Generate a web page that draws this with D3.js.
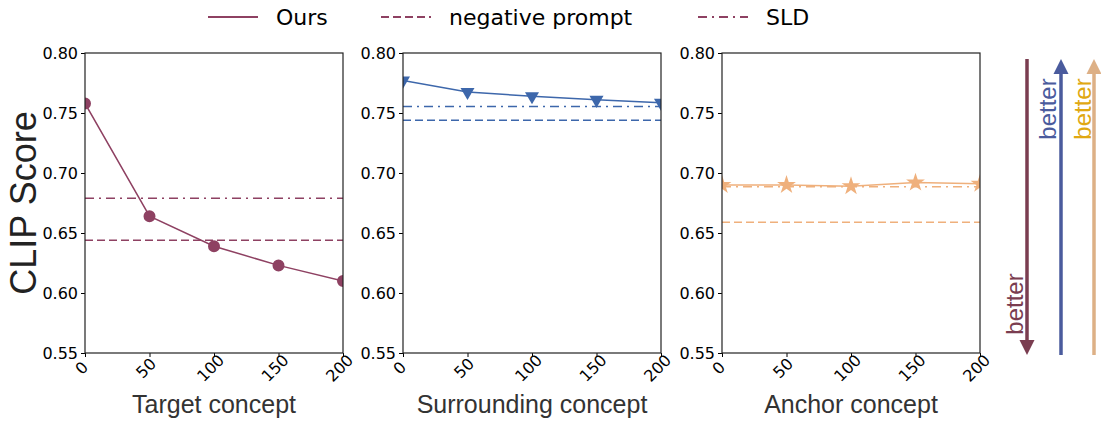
<!DOCTYPE html>
<html>
<head>
<meta charset="utf-8">
<script src="https://cdn.jsdelivr.net/npm/d3@7"></script>
<style>
  body { margin: 0; background: #fff; }
  svg { display: block; }
</style>
</head>
<body>
<script>
// data
var steps = [0, 50, 100, 150, 200];
var panels = ["Target concept", "Surrounding concept", "Anchor concept"];
var ours = [
  [0.758, 0.664, 0.639, 0.623, 0.610],
  [0.777, 0.7675, 0.764, 0.761, 0.7585],
  [0.690, 0.690, 0.689, 0.692, 0.691]
];
var negativePrompt = [0.644, 0.744, 0.659];
var sld = [0.679, 0.7555, 0.6885];
var yTicks = [0.55, 0.60, 0.65, 0.70, 0.75, 0.80];
var legendLabels = ["Ours", "negative prompt", "SLD"];

var colors = ["#8e4162", "#3d67ab", "#efb07c"];
var arrowColors = ["#7a3d50", "#4a5b9d", "#ddb086"];
var betterColors = ["#7a3d50", "#4a5b9d", "#e0a812"];
var symbols = [d3.symbolCircle, d3.symbolTriangle, d3.symbolStar];
var dashNeg = "8,4";
var dashSld = "9,5,2,5";

var width = 1101, height = 421;
var svg = d3.select("body").append("svg")
  .attr("width", width)
  .attr("height", height);

var plotTop = 53, plotBottom = 353;
var lefts = [85, 403, 722];
var pw = 258;

var y = d3.scaleLinear().domain([0.55, 0.80]).range([plotBottom, plotTop]);

panels.forEach(function(name, i) {
  var x = d3.scaleLinear().domain([0, 200]).range([lefts[i], lefts[i] + pw]);
  var g = svg.append("g");

  svg.append("clipPath").attr("id", "clip" + i)
    .append("rect")
    .attr("x", lefts[i]).attr("y", plotTop)
    .attr("width", pw).attr("height", plotBottom - plotTop);

  var plot = g.append("g").attr("clip-path", "url(#clip" + i + ")");

  // baselines
  plot.append("line")
    .attr("x1", x(0)).attr("x2", x(200))
    .attr("y1", y(negativePrompt[i])).attr("y2", y(negativePrompt[i]))
    .attr("stroke", colors[i]).attr("stroke-width", 1.5)
    .attr("stroke-dasharray", dashNeg);
  plot.append("line")
    .attr("x1", x(0)).attr("x2", x(200))
    .attr("y1", y(sld[i])).attr("y2", y(sld[i]))
    .attr("stroke", colors[i]).attr("stroke-width", 1.5)
    .attr("stroke-dasharray", dashSld);

  var line = d3.line()
    .x(function(d, j) { return x(steps[j]); })
    .y(function(d) { return y(d); });
  plot.append("path")
    .datum(ours[i])
    .attr("d", line)
    .attr("fill", "none")
    .attr("stroke", colors[i])
    .attr("stroke-width", 1.5);

  var sym = d3.symbol().type(symbols[i]).size([113, 85, 110][i]);
  plot.selectAll(".mk")
    .data(ours[i])
    .enter().append("path")
    .attr("d", sym)
    .attr("transform", function(d, j) {
      var t = "translate(" + x(steps[j]) + "," + y(d) + ")";
      if (i == 1) t += " rotate(180)";
      return t;
    })
    .attr("fill", colors[i]);

  // axes
  var yAxis = g.append("g")
    .attr("transform", "translate(" + lefts[i] + ",0)")
    .call(d3.axisLeft(y).tickValues(yTicks).tickFormat(d3.format(".2f")).tickSize(4).tickSizeOuter(0));
  yAxis.selectAll("text")
    .attr("font-family", "DejaVu Sans").attr("font-size", 16).attr("fill", "#000");

  var xAxis = g.append("g")
    .attr("transform", "translate(0," + plotBottom + ")")
    .call(d3.axisBottom(x).tickValues(steps).tickSize(4).tickSizeOuter(0));
  xAxis.selectAll("text")
    .attr("font-family", "DejaVu Sans").attr("font-size", 16).attr("fill", "#000")
    .attr("text-anchor", "middle")
    .attr("y", 0).attr("dy", 0)
    .attr("transform", "translate(0,19) rotate(-45)");

  g.selectAll(".domain").remove();
  g.append("rect")
    .attr("x", lefts[i]).attr("y", plotTop)
    .attr("width", pw).attr("height", plotBottom - plotTop)
    .attr("fill", "none").attr("stroke", "#222").attr("stroke-width", 1.2);

  g.append("text")
    .attr("x", lefts[i] + pw / 2).attr("y", 413)
    .attr("text-anchor", "middle")
    .attr("font-family", "Liberation Sans").attr("font-size", 25)
    .attr("fill", "#333")
    .text(name);
});

svg.append("text")
  .attr("transform", "translate(36," + ((plotTop + plotBottom) / 2) + ") rotate(-90)")
  .attr("text-anchor", "middle")
  .attr("font-family", "Liberation Sans").attr("font-size", 36)
  .attr("fill", "#222")
  .text("CLIP Score");

// legend
var legendX = [208, 381, 698];
var dashes = [null, dashNeg, dashSld];
legendLabels.forEach(function(l, k) {
  svg.append("line")
    .attr("x1", legendX[k]).attr("x2", legendX[k] + 50)
    .attr("y1", 17).attr("y2", 17)
    .attr("stroke", colors[0]).attr("stroke-width", 2)
    .attr("stroke-dasharray", dashes[k]);
  svg.append("text")
    .attr("x", legendX[k] + 68).attr("y", 25)
    .attr("font-family", "DejaVu Sans").attr("font-size", 22)
    .text(l);
});

// "better" arrows
var arrows = [
  { x: 1027, down: true, tx: 1015, ty: 304 },
  { x: 1061, down: false, tx: 1048, ty: 109 },
  { x: 1094, down: false, tx: 1083, ty: 109 }
];
arrows.forEach(function(a, k) {
  var y0 = 59, y1 = 355, hl = 15, hw = 7.5;
  if (a.down) {
    svg.append("line").attr("x1", a.x).attr("x2", a.x).attr("y1", y0).attr("y2", y1 - hl)
      .attr("stroke", arrowColors[k]).attr("stroke-width", 3.5);
    svg.append("path")
      .attr("d", d3.line()([[a.x - hw, y1 - hl], [a.x + hw, y1 - hl], [a.x, y1]]) + "Z")
      .attr("fill", arrowColors[k]);
  } else {
    svg.append("line").attr("x1", a.x).attr("x2", a.x).attr("y1", y0 + hl).attr("y2", y1)
      .attr("stroke", arrowColors[k]).attr("stroke-width", 3.5);
    svg.append("path")
      .attr("d", d3.line()([[a.x - hw, y0 + hl], [a.x + hw, y0 + hl], [a.x, y0]]) + "Z")
      .attr("fill", arrowColors[k]);
  }
  svg.append("text")
    .attr("transform", "translate(" + (a.tx + 8) + "," + a.ty + ") rotate(-90)")
    .attr("text-anchor", "middle")
    .attr("font-family", "Liberation Sans").attr("font-size", 24)
    .attr("fill", betterColors[k])
    .text("better");
});
</script>
</body>
</html>
